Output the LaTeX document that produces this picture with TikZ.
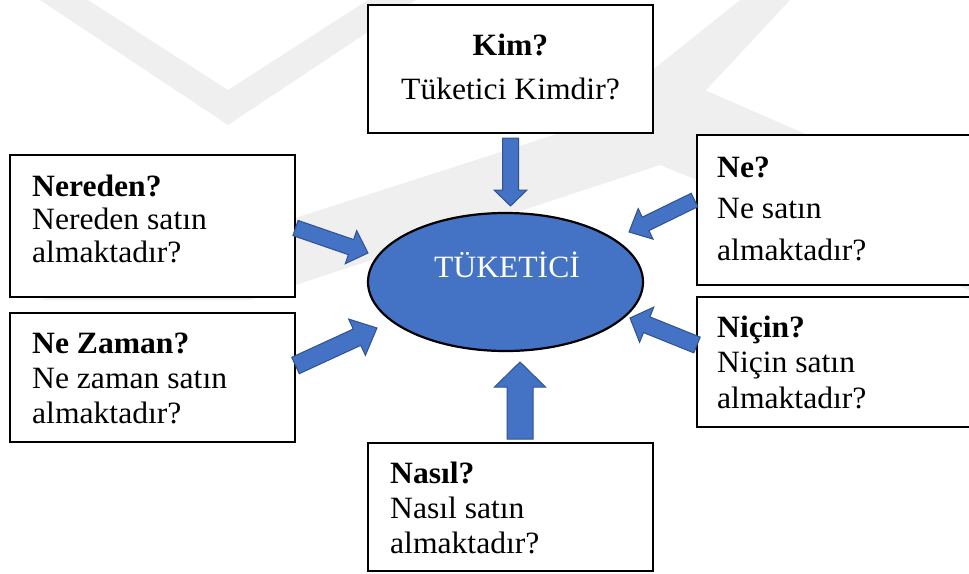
\documentclass[tikz,border=0pt]{standalone}
\usepackage{fontspec}
\setmainfont{Liberation Serif}[FakeStretch=1.02]
\usetikzlibrary{calc,shapes.geometric}
\definecolor{accent}{HTML}{4472C4}
\definecolor{accentline}{HTML}{2F528F}
\definecolor{markgray}{HTML}{EFEFEF}

% block arrow: tail, tip, half shaft width, half head width, head length
\newcommand\blockarrow[5]{%
  \coordinate (ba-h) at ($(#2)!#5!(#1)$);
  \draw[blockarrowstyle]
    ($(#1)!#3!90:(#2)$) -- ($(ba-h)!#3!90:(#2)$) -- ($(ba-h)!#4!90:(#2)$)
    -- (#2)
    -- ($(ba-h)!#4!-90:(#2)$) -- ($(ba-h)!#3!-90:(#2)$) -- ($(#1)!#3!-90:(#2)$)
    -- cycle;
}

\begin{document}
\begin{tikzpicture}[x=1pt,y=-1pt,
  box/.style={draw=black, line width=2.4pt, fill=white, rectangle, inner sep=0pt},
  txt/.style={inner sep=0pt, font=\fontsize{31}{34}\selectfont},
  hub/.style={ellipse, draw=black, line width=2.2pt, fill=accent, inner sep=0pt},
  blockarrowstyle/.style={fill=accent, draw=accentline, line width=1pt, line join=miter}]
\useasboundingbox (0,0) rectangle (969,573);
\clip (0,0) rectangle (969,573);

% faint background emblem
\fill[markgray] (40,0) -- (88,0) -- (228,90) -- (368,0) -- (416,0) -- (228,125) -- cycle;
\fill[markgray] (40,300) -- (700,88) -- (969,205) -- (969,290) -- (660,165) -- (250,300) -- cycle;
\fill[markgray] (740,0) -- (790,0) -- (655,145) -- (600,112) -- cycle;

% question boxes
\node[box, minimum width=285pt, minimum height=128pt] (kim) at (510.5,69) {};
\node[box, minimum width=285pt, minimum height=142pt] (nereden) at (152.5,226) {};
\node[box, minimum width=285pt, minimum height=129pt] (nezaman) at (152.5,377.5) {};
\node[box, minimum width=290pt, minimum height=150pt] (ne) at (842,210) {};
\node[box, minimum width=290pt, minimum height=130pt] (nicin) at (842,362) {};
\node[box, minimum width=285pt, minimum height=128pt] (nasil) at (510.5,507) {};

% box texts
\node[txt, anchor=base] (kim-1) at (510.5,55) {\textbf{Kim?}};
\node[txt, anchor=base] (kim-2) at (510.5,99) {Tüketici Kimdir?};

\node[txt, anchor=base west] (nereden-1) at (32,196) {\textbf{Nereden?}};
\node[txt, anchor=base west] (nereden-2) at (32,229) {Nereden satın};
\node[txt, anchor=base west] (nereden-3) at (32,262) {almaktadır?};

\node[txt, anchor=base west] (nezaman-1) at (32,353) {\textbf{Ne Zaman?}};
\node[txt, anchor=base west] (nezaman-2) at (32,388) {Ne zaman satın};
\node[txt, anchor=base west] (nezaman-3) at (32,423) {almaktadır?};

\node[txt, anchor=base west] (ne-1) at (717,177) {\textbf{Ne?}};
\node[txt, anchor=base west] (ne-2) at (717,218) {Ne satın};
\node[txt, anchor=base west] (ne-3) at (717,260) {almaktadır?};

\node[txt, anchor=base west] (nicin-1) at (717,337) {\textbf{Niçin?}};
\node[txt, anchor=base west] (nicin-2) at (717,372) {Niçin satın};
\node[txt, anchor=base west] (nicin-3) at (717,408) {almaktadır?};

\node[txt, anchor=base west] (nasil-1) at (390,483) {\textbf{Nasıl?}};
\node[txt, anchor=base west] (nasil-2) at (390,518) {Nasıl satın};
\node[txt, anchor=base west] (nasil-3) at (390,553) {almaktadır?};

% central ellipse
\node[hub, minimum width=275pt, minimum height=138pt] (tuketici) at (505.5,282) {};
\node[txt, text=white, anchor=base] (tuketici-label) at (507,277) {TÜKETİCİ};

% arrow ends
\coordinate (kim-out) at (510.5,138);
\coordinate (kim-in) at (510.5,206);
\coordinate (nasil-out) at (520,439);
\coordinate (nasil-in) at (520,362);
\coordinate (nereden-out) at (295.5,228);
\coordinate (nereden-in) at (368,253);
\coordinate (nezaman-out) at (295.5,365.5);
\coordinate (nezaman-in) at (377,328);
\coordinate (ne-out) at (694.5,200);
\coordinate (ne-in) at (629,232);
\coordinate (nicin-out) at (697,345);
\coordinate (nicin-in) at (630,318);

% block arrows towards the consumer
\blockarrow{kim-out}{kim-in}{8pt}{16.5pt}{16pt}
\blockarrow{nasil-out}{nasil-in}{13pt}{25.5pt}{25pt}
\blockarrow{nereden-out}{nereden-in}{8pt}{17.5pt}{18pt}
\blockarrow{nezaman-out}{nezaman-in}{9pt}{20pt}{22pt}
\blockarrow{ne-out}{ne-in}{7.5pt}{17pt}{18.5pt}
\blockarrow{nicin-out}{nicin-in}{8.5pt}{19pt}{18pt}
\end{tikzpicture}
\end{document}
